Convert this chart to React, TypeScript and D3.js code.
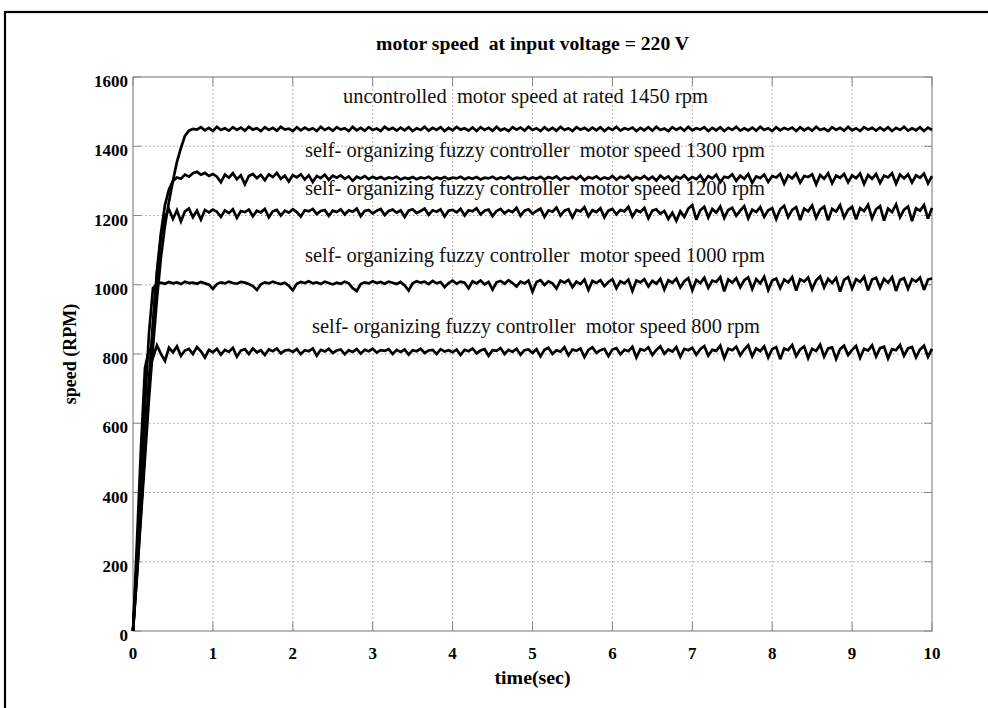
import React from "react";
import * as d3 from "d3";

const timeStep = 0.05;
const xTicks = [0, 1, 2, 3, 4, 5, 6, 7, 8, 9, 10];
const yTicks = [0, 200, 400, 600, 800, 1000, 1200, 1400, 1600];
const titleText = "motor speed  at input voltage = 220 V";
const xLabel = "time(sec)";
const yLabel = "speed (RPM)";

const s1450 = [0, 160, 330, 500, 670, 820, 960, 1080, 1170, 1240, 1300, 1355, 1395, 1430, 1445, 1450,
  1448, 1455, 1446, 1453, 1444, 1456, 1447, 1452, 1445, 1455,
  1447, 1454, 1445, 1456, 1448, 1452, 1444, 1455, 1447, 1453,
  1445, 1456, 1448, 1451, 1444, 1455, 1446, 1454, 1447, 1452,
  1444, 1456, 1447, 1453, 1445, 1455, 1448, 1452, 1444, 1456,
  1446, 1453, 1445, 1455, 1447, 1451, 1444, 1456, 1448, 1453,
  1445, 1454, 1446, 1455, 1444, 1452, 1447, 1456, 1445, 1453,
  1447, 1455, 1444, 1453, 1446, 1456, 1448, 1452, 1445, 1454,
  1444, 1455, 1447, 1453, 1445, 1456, 1446, 1451, 1444, 1455,
  1448, 1454, 1445, 1456, 1447, 1452, 1444, 1455, 1446, 1453,
  1445, 1456, 1447, 1452, 1444, 1455, 1448, 1453, 1445, 1454,
  1446, 1455, 1444, 1453, 1447, 1456, 1445, 1452, 1448, 1454,
  1444, 1453, 1446, 1455, 1445, 1456, 1447, 1451, 1444, 1455,
  1447, 1454, 1445, 1456, 1446, 1452, 1448, 1455, 1444, 1453,
  1446, 1455, 1444, 1453, 1447, 1456, 1445, 1452, 1446, 1454,
  1445, 1456, 1447, 1452, 1444, 1455, 1446, 1453, 1448, 1454,
  1444, 1455, 1446, 1453, 1445, 1456, 1447, 1451, 1444, 1455,
  1447, 1453, 1445, 1456, 1446, 1452, 1444, 1455, 1448, 1453,
  1445, 1454, 1446, 1455, 1444, 1453, 1447, 1456, 1445, 1452,
  1446, 1455, 1444, 1454, 1447];

const s1300 = [0, 170, 350, 530, 720, 890, 1040, 1150, 1230, 1275, 1300,
  1310, 1306, 1318, 1312, 1322, 1326, 1318, 1323, 1314, 1320,
  1312, 1296, 1318, 1309, 1322, 1305, 1316, 1290, 1314, 1320,
  1308, 1317, 1302, 1319, 1311, 1323, 1306, 1315, 1298, 1317,
  1310, 1319, 1304, 1316, 1297, 1314, 1308, 1318, 1303, 1315,
  1309, 1316, 1306, 1313, 1300, 1312, 1307, 1314, 1305, 1312,
  1306, 1311, 1305, 1310, 1307, 1312, 1304, 1309, 1306, 1311,
  1305, 1310, 1307, 1312, 1304, 1310, 1306, 1311, 1305, 1309,
  1307, 1312, 1305, 1310, 1306, 1311, 1304, 1309, 1307, 1312,
  1305, 1310, 1306, 1313, 1304, 1309, 1307, 1311, 1305, 1310,
  1306, 1312, 1304, 1311, 1307, 1313, 1303, 1310, 1306, 1312,
  1305, 1314, 1302, 1311, 1307, 1313, 1304, 1310, 1306, 1314,
  1303, 1312, 1307, 1315, 1302, 1311, 1306, 1314, 1304, 1312,
  1301, 1315, 1306, 1313, 1300, 1312, 1307, 1316, 1303, 1311,
  1305, 1316, 1298, 1314, 1307, 1318, 1296, 1312, 1309, 1319,
  1300, 1315, 1306, 1320, 1294, 1313, 1308, 1318, 1297, 1314,
  1310, 1320, 1292, 1316, 1307, 1321, 1295, 1314, 1311, 1319,
  1290, 1317, 1306, 1322, 1293, 1315, 1309, 1320, 1296, 1316,
  1308, 1321, 1291, 1317, 1306, 1320, 1294, 1315, 1310, 1322,
  1292, 1318, 1307, 1319, 1295, 1316, 1309, 1321, 1293, 1314];

const s1200 = [0, 170, 350, 530, 710, 880, 1030, 1140, 1195,
  1218, 1190, 1215, 1183, 1212, 1220, 1195, 1214, 1188, 1216, 1209, 1217,
  1211, 1196, 1215, 1207, 1218, 1193, 1213, 1210, 1217, 1198,
  1214, 1209, 1219, 1195, 1212, 1216, 1200, 1214, 1208, 1218,
  1210, 1197, 1215, 1212, 1219, 1204, 1213, 1216, 1199, 1214,
  1210, 1218, 1203, 1215, 1211, 1220, 1198, 1213, 1216, 1206,
  1214, 1219, 1201, 1213, 1217, 1208, 1215, 1196, 1214, 1218,
  1207, 1213, 1220, 1202, 1215, 1211, 1218, 1197, 1214, 1216,
  1209, 1219, 1200, 1215, 1212, 1221, 1203, 1214, 1217, 1198,
  1213, 1219, 1206, 1215, 1210, 1222, 1199, 1214, 1218, 1205,
  1213, 1220, 1196, 1215, 1211, 1223, 1200, 1214, 1218, 1194,
  1216, 1212, 1224, 1198, 1215, 1210, 1221, 1195, 1214, 1219,
  1203, 1216, 1212, 1225, 1197, 1215, 1210, 1222, 1192, 1214,
  1218, 1205, 1213, 1190, 1208, 1185, 1212, 1196, 1220, 1230,
  1188, 1215, 1225, 1194, 1219, 1208, 1226, 1193, 1216, 1222,
  1199, 1214, 1227, 1192, 1217, 1210, 1224, 1196, 1215, 1221,
  1190, 1218, 1228, 1195, 1216, 1224, 1187, 1220, 1212, 1229,
  1193, 1217, 1226, 1186, 1219, 1211, 1230, 1194, 1216, 1225,
  1189, 1221, 1213, 1231, 1192, 1218, 1227, 1185, 1220, 1210,
  1232, 1195, 1217, 1226, 1184, 1221, 1214, 1230, 1191, 1222];

const s1000 = [0, 210, 430, 650, 860, 990,
  1002, 1006, 1003, 1008, 1004, 1007, 1002, 1009, 1005, 1006, 1003, 1008, 1004, 1000, 988,
  1002, 1007, 1004, 1009, 1005, 1003, 1008, 1006, 1002, 996,
  985, 1001, 1007, 1004, 1009, 1005, 1002, 1006, 997, 984,
  1003, 1008, 1005, 1010, 1004, 1007, 1002, 1009, 1005, 1001,
  1006, 1003, 1009, 1004, 990, 982, 1002, 1007, 1004, 1010,
  1005, 1008, 1003, 1009, 1006, 1002, 1008, 998, 983, 1004,
  1010, 1006, 1009, 1002, 1011, 1004, 1008, 993, 1005, 1012,
  1003, 1009, 1006, 990, 1010, 1004, 1012, 1001, 1008, 986,
  1007, 1011, 1003, 1013, 1005, 995, 1009, 1004, 1012, 980,
  1008, 1013, 999, 1010, 1004, 989, 1012, 1006, 1014, 993,
  1009, 1002, 1015, 985, 1011, 1005, 1013, 996, 1008, 1016,
  990, 1010, 1004, 1015, 982, 1012, 1007, 1016, 995, 1011,
  1003, 1017, 986, 1013, 1006, 1018, 992, 1010, 1019, 984,
  1014, 1005, 1020, 991, 1012, 1008, 1022, 981, 1015, 1006,
  1019, 993, 1013, 1021, 988, 1016, 1004, 1023, 985, 1012,
  1018, 990, 1015, 1007, 1022, 983, 1016, 1009, 1021, 987,
  1013, 1024, 992, 1017, 1005, 1020, 980, 1014, 1022, 989,
  1016, 1008, 1023, 984, 1015, 1020, 991, 1017, 1006, 1022,
  982, 1014, 1019, 988, 1016, 1009, 1021, 985, 1015, 1018];

const s800 = [0, 260, 530, 760,
  812, 790, 825, 800, 780, 818, 805, 822, 795, 810, 815, 800, 820, 808, 790, 812, 805,
  815, 798, 812, 806, 818, 792, 810, 814, 800, 816,
  805, 811, 797, 813, 808, 816, 802, 810, 812, 806,
  814, 800, 811, 808, 816, 795, 812, 807, 815, 803,
  810, 813, 799, 811, 806, 814, 801, 812, 808, 815,
  804, 811, 809, 814, 800, 812, 806, 813, 798, 811,
  808, 815, 803, 810, 812, 800, 814, 807, 811, 805,
  813, 797, 812, 808, 816, 802, 810, 814, 795, 811,
  809, 817, 800, 812, 806, 815, 798, 811, 813, 803,
  814, 793, 812, 818, 800, 811, 807, 820, 796, 813,
  809, 816, 791, 812, 819, 803, 811, 815, 794, 813,
  817, 799, 812, 808, 821, 790, 814, 810, 819, 797,
  812, 822, 801, 813, 807, 820, 792, 815, 811, 818,
  798, 814, 823, 795, 812, 809, 824, 788, 815, 811,
  821, 796, 813, 825, 793, 816, 808, 822, 790, 814,
  820, 785, 816, 811, 826, 794, 813, 822, 788, 815,
  809, 827, 792, 816, 819, 786, 814, 824, 797, 812,
  823, 789, 815, 810, 825, 793, 817, 821, 787, 814,
  811, 826, 795, 816, 820, 790, 813, 824, 792, 815];

const seriesList = [s1450, s1300, s1200, s1000, s800];

const annotations = [
  "uncontrolled  motor speed at rated 1450 rpm",
  "self- organizing fuzzy controller  motor speed 1300 rpm",
  "self- organizing fuzzy controller  motor speed 1200 rpm",
  "self- organizing fuzzy controller  motor speed 1000 rpm",
  "self- organizing fuzzy controller  motor speed 800 rpm",
];

const W = 988;
const H = 708;
const L = 133, R = 932, T = 77, B = 631;
const annoLayout = [
  { x: 343, y: 103, len: 365 },
  { x: 305, y: 157, len: 460 },
  { x: 305, y: 195, len: 460 },
  { x: 305, y: 262, len: 460 },
  { x: 312, y: 333, len: 448 },
];

export default function App() {
  const x = d3.scaleLinear().domain([0, 10]).range([L, R]);
  const y = d3.scaleLinear().domain([0, 1600]).range([B, T]);
  const line = d3
    .line<number>()
    .x((_, i) => x(i * timeStep))
    .y((d) => y(d));
  const serif = "'Liberation Serif', 'Times New Roman', serif";
  const axisColor = "#8a8a8a";
  return (
    <svg
      width={W}
      height={H}
      style={{ position: "absolute", left: 0, top: 0, background: "#fff" }}
      fontFamily={serif}
    >
      <rect x={0} y={0} width={W} height={H} fill="#fff" />
      <rect x={5} y={12} width={1100} height={900} fill="none" stroke="#000" strokeWidth={2.2} />
      <text x={(L + R) / 2} y={50} textAnchor="middle" fontWeight="bold" fontSize={18}
        textLength={313} lengthAdjust="spacingAndGlyphs" style={{ whiteSpace: "pre" }}>{titleText}</text>
      {/* grid */}
      {xTicks.slice(1, -1).map((t) => (
        <line key={"gx" + t} x1={x(t)} x2={x(t)} y1={T} y2={B} stroke="#a0a0a0" strokeWidth={1} strokeDasharray="1.5,2.5" />
      ))}
      {yTicks.slice(1, -1).map((t) => (
        <line key={"gy" + t} x1={L} x2={R} y1={y(t)} y2={y(t)} stroke="#a0a0a0" strokeWidth={1} strokeDasharray="1.5,2.5" />
      ))}
      {/* ticks inside on all sides */}
      {xTicks.map((t) => (
        <g key={"tx" + t}>
          <line x1={x(t)} x2={x(t)} y1={B} y2={B - 9} stroke={axisColor} />
          <line x1={x(t)} x2={x(t)} y1={T} y2={T + 9} stroke={axisColor} />
        </g>
      ))}
      {yTicks.map((t) => (
        <g key={"ty" + t}>
          <line x1={L} x2={L + 8} y1={y(t)} y2={y(t)} stroke={axisColor} />
          <line x1={R} x2={R - 8} y1={y(t)} y2={y(t)} stroke={axisColor} />
        </g>
      ))}
      <rect x={L} y={T} width={R - L} height={B - T} fill="none" stroke={axisColor} strokeWidth={1.2} />
      {/* series */}
      {seriesList.map((s, i) => (
        <path key={"s" + i} d={line(s) || ""} fill="none" stroke="#000" strokeWidth={2.7} strokeLinejoin="miter" strokeMiterlimit={3} />
      ))}
      {/* annotations */}
      {annotations.map((a, i) => (
        <text key={"a" + i} x={annoLayout[i].x} y={annoLayout[i].y} fontSize={22}
          textLength={annoLayout[i].len} lengthAdjust="spacingAndGlyphs" fill="#111"
          style={{ whiteSpace: "pre" }}>{a}</text>
      ))}
      {/* tick labels */}
      {xTicks.map((t) => (
        <text key={"lx" + t} x={x(t)} y={659} textAnchor="middle" fontWeight="bold" fontSize={17}>{t}</text>
      ))}
      {yTicks.map((t) => (
        <text key={"ly" + t} x={128} y={y(t) + 10} textAnchor="end" fontWeight="bold" fontSize={17}>{t}</text>
      ))}
      <text x={(L + R) / 2} y={684} textAnchor="middle" fontWeight="bold" fontSize={18}
        textLength={76} lengthAdjust="spacingAndGlyphs">{xLabel}</text>
      <text transform={`translate(76, ${(T + B) / 2}) rotate(-90)`} textAnchor="middle" fontWeight="bold" fontSize={18}>{yLabel}</text>
    </svg>
  );
}
